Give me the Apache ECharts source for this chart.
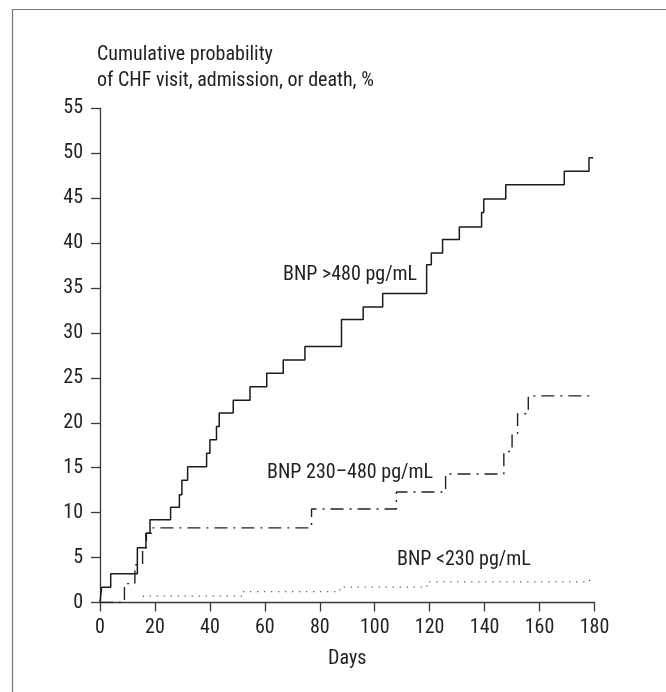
<!DOCTYPE html>
<html>
<head>
<meta charset="utf-8">
<script src="https://cdn.jsdelivr.net/npm/echarts@6/dist/echarts.min.js"></script>
<style>
    html, body { margin: 0; padding: 0; background: #fff; }
    #chart { width: 666px; height: 692px; }
</style>
</head>
<body>
<div id="chart"></div>
<script>
    // 横轴刻度、纵轴刻度
    var dayTicks = [0, 20, 40, 60, 80, 100, 120, 140, 160, 180];
    var pctTicks = [0, 5, 10, 15, 20, 25, 30, 35, 40, 45, 50, 55];

    // BNP >480 pg/mL（实线）
    var highDays = [0, 0.6, 3.9, 13.6, 16.7, 18.2, 25.7, 28.9, 29.8, 31.9, 38.8, 40.0, 42.4, 43.4, 48.5, 54.6, 60.7, 66.7, 74.6, 87.9, 95.8, 102.9, 118.9, 120.6, 124.7, 130.8, 138.9, 139.7, 147.7, 169.0, 178.0, 179.5];
    var highVals = [0, 1.7, 3.2, 6.1, 7.7, 9.2, 10.6, 12.0, 13.6, 15.1, 16.6, 18.1, 19.6, 21.1, 22.5, 24.0, 25.5, 27.0, 28.5, 31.5, 32.9, 34.4, 37.6, 38.9, 40.4, 41.8, 43.4, 44.9, 46.5, 48.0, 49.5, 49.5];

    // BNP 230–480 pg/mL（点划线）
    var midDays = [0, 8.9, 12.7, 15.5, 16.9, 18.8, 77.0, 107.9, 125.8, 147.0, 150.0, 152.0, 155.9, 179.5];
    var midVals = [0, 2.1, 4.2, 6.1, 7.7, 8.3, 10.4, 12.3, 14.3, 16.8, 18.8, 21.0, 23.0, 23.0];

    // BNP <230 pg/mL（点线）
    var lowDays = [0, 15.8, 51.5, 87.3, 119.0, 178.2, 179.0];
    var lowVals = [0, 0.7, 1.2, 1.7, 2.3, 2.7, 2.7];

    var seriesNames = ['BNP >480 pg/mL', 'BNP 230–480 pg/mL', 'BNP <230 pg/mL'];
    var yTitle = 'Cumulative probability\nof CHF visit, admission, or death, %';
    var xTitle = 'Days';

    function pairs(xs, ys) {
        var out = [];
        for (var i = 0; i < xs.length; i++) {
            out.push([xs[i], ys[i]]);
        }
        return out;
    }

    var font = 'Roboto, "Liberation Sans", Arial, sans-serif';
    var fontCss = 'condensed 20px ' + font;
    var axisColor = '#3a3a3a';
    var textColor = '#222';

    var myChart = echarts.init(document.getElementById('chart'));
    var option = {
        animation: false,
        backgroundColor: '#fff',
        grid: {
            left: 100,
            right: 71.5,
            top: 108.3,
            bottom: 89.5,
            containLabel: false,
            outerBoundsMode: 'none'
        },
        xAxis: {
            type: 'value',
            min: dayTicks[0],
            max: dayTicks[dayTicks.length - 1],
            interval: 20,
            name: xTitle,
            nameLocation: 'middle',
            nameGap: 46,
            nameTextStyle: { fontFamily: font, fontWeight: 'condensed', fontSize: 20, color: textColor },
            axisLine: { lineStyle: { color: axisColor, width: 1.3 } },
            axisTick: { show: true, inside: false, length: 9, lineStyle: { color: axisColor, width: 1.3 } },
            axisLabel: { margin: 15, fontFamily: font, fontWeight: 'condensed', fontSize: 20, color: textColor },
            splitLine: { show: false }
        },
        yAxis: {
            type: 'value',
            min: pctTicks[0],
            max: pctTicks[pctTicks.length - 1],
            interval: 5,
            axisLine: { show: true, lineStyle: { color: axisColor, width: 1.3 } },
            axisTick: { show: true, inside: false, length: 9, lineStyle: { color: axisColor, width: 1.3 } },
            axisLabel: { margin: 17, fontFamily: font, fontWeight: 'condensed', fontSize: 20, color: textColor },
            splitLine: { show: false }
        },
        graphic: [
            {
                type: 'rect',
                shape: { x: 12.5, y: 9.5, width: 720, height: 720 },
                style: { fill: 'none', stroke: '#777', lineWidth: 1.2 },
                silent: true
            },
            {
                type: 'text',
                left: 97,
                top: 42,
                style: { text: yTitle, font: fontCss, fill: textColor, lineHeight: 25.7 }
            },
            {
                type: 'text',
                left: 283,
                top: 265,
                style: { text: seriesNames[0], font: fontCss, fill: textColor }
            },
            {
                type: 'text',
                right: 666 - 433,
                top: 463,
                style: { text: seriesNames[1], font: fontCss, fill: textColor }
            },
            {
                type: 'text',
                left: 397,
                top: 550,
                style: { text: seriesNames[2], font: fontCss, fill: textColor }
            }
        ],
        series: [
            {
                name: seriesNames[2],
                type: 'line',
                step: 'end',
                symbol: 'none',
                data: pairs(lowDays, lowVals),
                lineStyle: { color: '#333', width: 1.2, type: [1, 6] },
                z: 2
            },
            {
                name: seriesNames[1],
                type: 'line',
                step: 'end',
                symbol: 'none',
                data: pairs(midDays, midVals),
                lineStyle: { color: '#222', width: 1.4, type: [13, 6, 2, 6] },
                z: 3
            },
            {
                name: seriesNames[0],
                type: 'line',
                step: 'end',
                symbol: 'none',
                data: pairs(highDays, highVals),
                lineStyle: { color: '#1a1a1a', width: 1.5, type: 'solid' },
                z: 4
            }
        ]
    };
    myChart.setOption(option);
</script>
</body>
</html>
